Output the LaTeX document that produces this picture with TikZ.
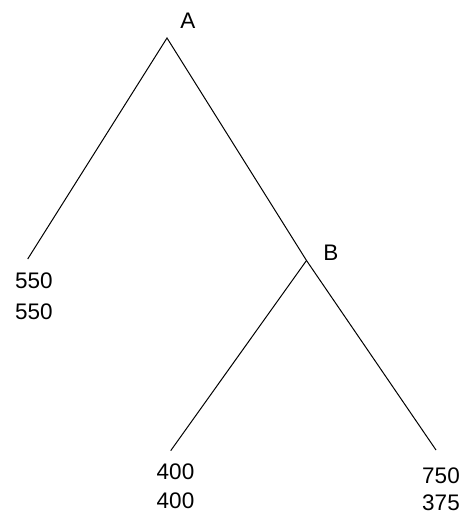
\documentclass[tikz,border=0pt]{standalone}
\usepackage{fontspec}
\setmainfont{Liberation Sans}
\begin{document}
\begin{tikzpicture}[x=1pt,y=-1pt,
  edge/.style={line width=1pt, black},
  lbl/.style={anchor=base, inner sep=0pt, font=\fontsize{22.5}{27}\selectfont}]
\useasboundingbox (0,0) rectangle (470,515);
\coordinate (A) at (167,38);
\coordinate (B) at (306.5,260.5);
\coordinate (L1) at (27.7,259);
\coordinate (L2) at (170.7,450.7);
\coordinate (L3) at (436,450);
\node[lbl] (Alab) at (188,28.5) {A};
\node[lbl] (Blab) at (331,260.5) {B};
\node[lbl] (p1a) at (34,288) {550};
\node[lbl] (p1b) at (34,319) {550};
\node[lbl] (p2a) at (175.5,479) {400};
\node[lbl] (p2b) at (175.5,508) {400};
\node[lbl] (p3a) at (441,483) {750};
\node[lbl] (p3b) at (441,510.5) {375};
\draw[edge] (L1) -- (A) -- (B) -- (L3);
\draw[edge] (B) -- (L2);
\end{tikzpicture}
\end{document}
